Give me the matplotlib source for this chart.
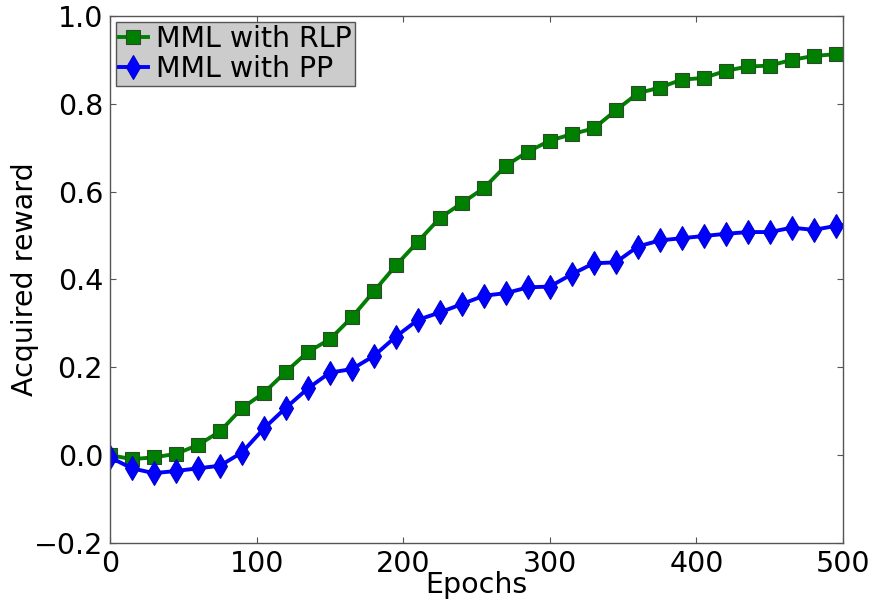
import matplotlib
matplotlib.use('Agg')
import matplotlib.pyplot as plt

# --- data (every 15 epochs, plus the last epoch) ---
epochs = list(range(0, 496, 15)) + [500]

rlp = [0.000, -0.009, -0.005, 0.003, 0.023, 0.054, 0.107, 0.142, 0.190, 0.235,
       0.264, 0.314, 0.373, 0.432, 0.486, 0.540, 0.574, 0.608, 0.659, 0.691,
       0.716, 0.731, 0.744, 0.785, 0.824, 0.837, 0.855, 0.859, 0.875, 0.885,
       0.887, 0.900, 0.909, 0.913, 0.915]

pp = [-0.005, -0.030, -0.041, -0.036, -0.030, -0.024, 0.006, 0.061, 0.108, 0.152,
      0.188, 0.196, 0.226, 0.270, 0.308, 0.325, 0.344, 0.363, 0.369, 0.382,
      0.384, 0.412, 0.437, 0.439, 0.475, 0.489, 0.494, 0.499, 0.504, 0.508,
      0.508, 0.518, 0.513, 0.522, 0.524]

labels = ['MML with RLP', 'MML with PP']

FS = 20.5
plt.rcParams['font.family'] = ['DejaVu Sans']
plt.rcParams['font.size'] = FS

fig = plt.figure(figsize=(8.71, 6.01), dpi=100)
ax = fig.add_axes([0.1263, 0.0965, 0.8416, 0.8769])

marks = list(range(len(epochs) - 1))
ax.plot(epochs, rlp, color='#008000', lw=2.8, marker='s', ms=9.5,
        mec='#2a4a2a', mew=0.8, markevery=marks, label=labels[0])
ax.plot(epochs, pp, color='#0000ff', lw=2.8, marker='d', ms=12,
        mec='#0000cc', mew=0.8, markevery=marks, label=labels[1])

ax.set_xlim(0, 500)
ax.set_ylim(-0.2, 1.0)
ax.set_xticks([0, 100, 200, 300, 400, 500])
ax.set_yticks([-0.2, 0.0, 0.2, 0.4, 0.6, 0.8, 1.0])
ax.set_yticklabels(['\u22120.2', '0.0', '0.2', '0.4', '0.6', '0.8', '1.0'])
ax.tick_params(direction='in', length=4, width=0.8, top=True, right=True,
               colors='#555555', labelcolor='black', labelsize=FS, pad=5)
for s in ax.spines.values():
    s.set_color('#555555')
    s.set_linewidth(1.0)

ax.set_xlabel('Epochs', fontsize=FS, labelpad=-5)
ax.set_ylabel('Acquired reward', fontsize=FS, labelpad=-4)

leg = ax.legend(loc='upper left', fontsize=FS, handlelength=1.0,
                handletextpad=0.3, borderpad=0.12, borderaxespad=0.2,
                labelspacing=0.05, numpoints=1, fancybox=False,
                facecolor='#cccccc', edgecolor='#555555', framealpha=1.0)
leg.get_frame().set_linewidth(1.0)

fig.savefig('out.png', dpi=100)
